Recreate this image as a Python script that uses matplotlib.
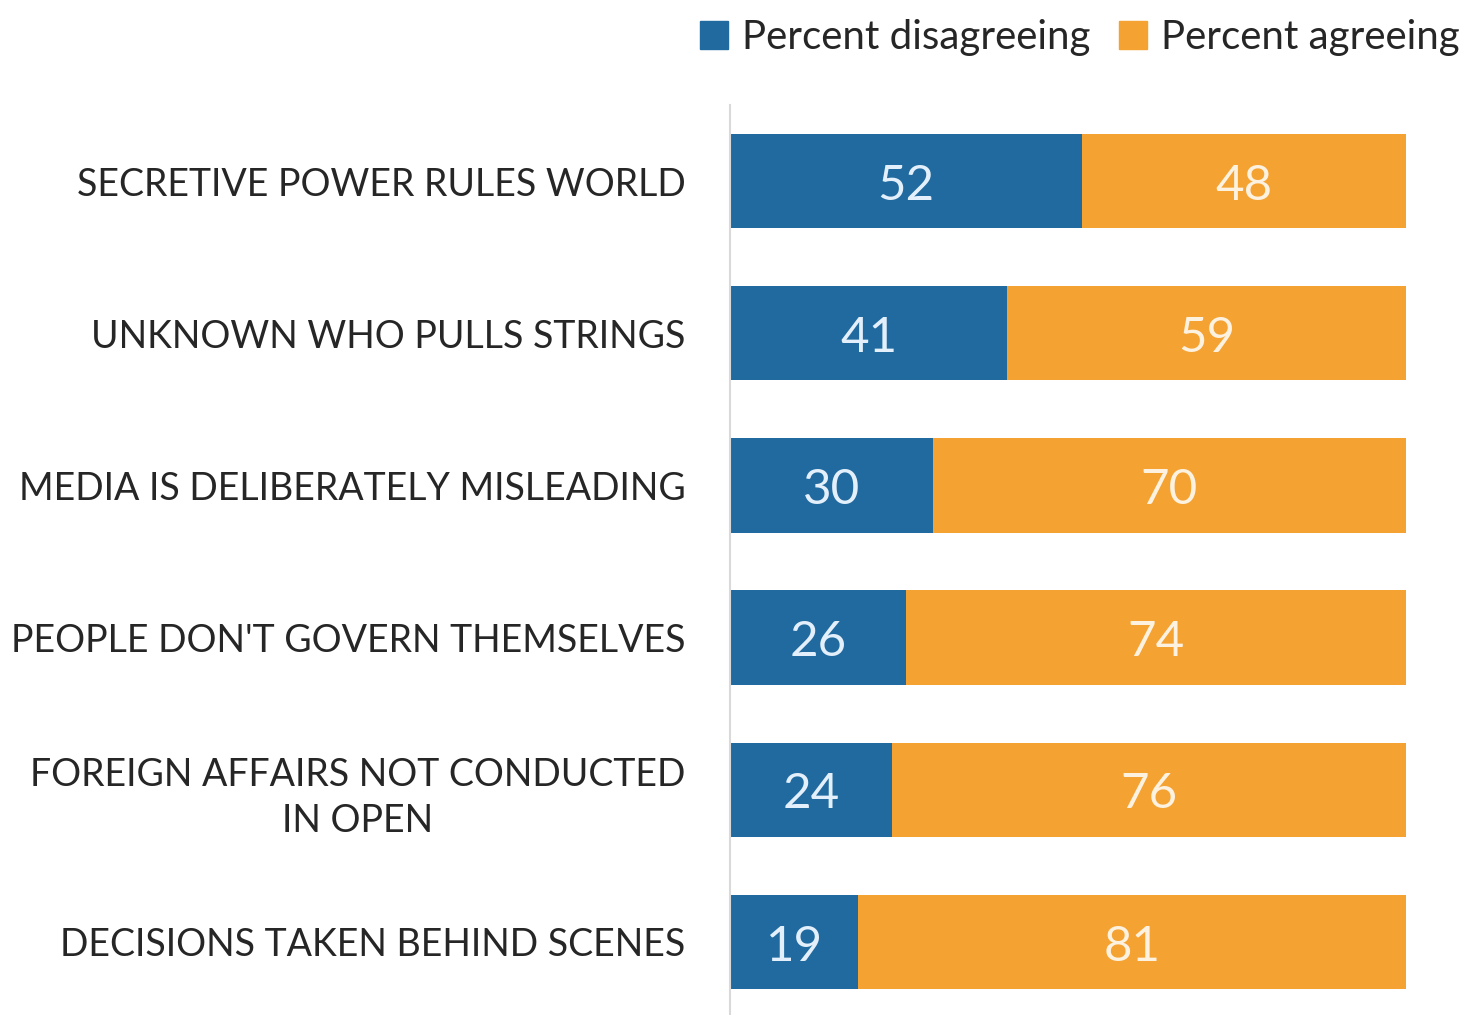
import matplotlib
matplotlib.use("Agg")
import matplotlib.pyplot as plt
from matplotlib.patches import Patch

categories = [
    "SECRETIVE POWER RULES WORLD",
    "UNKNOWN WHO PULLS STRINGS",
    "MEDIA IS DELIBERATELY MISLEADING",
    "PEOPLE DON'T GOVERN THEMSELVES",
    "FOREIGN AFFAIRS NOT CONDUCTED\nIN OPEN",
    "DECISIONS TAKEN BEHIND SCENES",
]
disagree = [52, 41, 30, 26, 24, 19]
agree = [48, 59, 70, 74, 76, 81]
series_names = ["Percent disagreeing", "Percent agreeing"]

BLUE = "#216a9f"
ORANGE = "#f4a231"
FONT = ["Lato", "DejaVu Sans"]
plt.rcParams["font.family"] = FONT

fig = plt.figure(figsize=(14.68, 10.15), dpi=100)
ax = fig.add_axes([730 / 1468, 0.0, (1406 - 730) / 1468, 1 - 105 / 1015])

y = list(range(len(categories)))
ax.barh(y, disagree, height=0.62, color=BLUE, linewidth=0)
ax.barh(y, agree, left=disagree, height=0.62, color=ORANGE, linewidth=0)

for i, (d, a) in enumerate(zip(disagree, agree)):
    ax.text(d / 2, i + 0.03, str(d), ha="center", va="center", fontsize=35.5,
            color="#e3f0fb")
    ax.text(d + a / 2, i + 0.03, str(a), ha="center", va="center", fontsize=35.5,
            color="#fdf1df")

ax.set_xlim(0, 100)
ax.set_ylim(5.48, -0.5)
ax.set_yticks(y)
ax.set_yticklabels(categories, fontsize=27, color="#262626", ha="right",
                   multialignment="center", linespacing=1.35)
ax.tick_params(axis="y", length=0, pad=32)
ax.set_xticks([])
for s in ["top", "right", "bottom"]:
    ax.spines[s].set_visible(False)
ax.spines["left"].set_color("#d9d9d9")
ax.spines["left"].set_linewidth(1.5)

handles = [Patch(color=BLUE), Patch(color=ORANGE)]
fig.legend(handles, series_names, loc="upper right",
           bbox_to_anchor=(1.019, 1.017), ncol=2, frameon=False, fontsize=29,
           handlelength=0.7, handleheight=0.7, handletextpad=0.35,
           columnspacing=0.7, labelcolor="#262626")

fig.savefig("out.png", dpi=100, facecolor="white")
